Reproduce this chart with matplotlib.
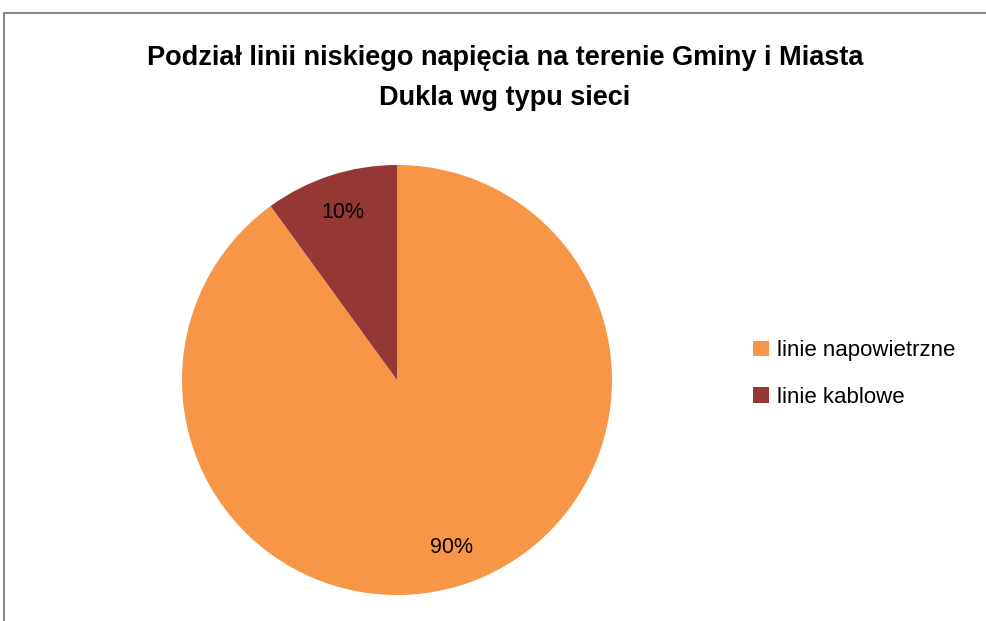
import matplotlib
matplotlib.use("Agg")
import matplotlib.pyplot as plt
from matplotlib.patches import Rectangle, Patch

categories = ["linie napowietrzne", "linie kablowe"]
values = [90, 10]
colors = ["#F79646", "#953735"]
title = "Podział linii niskiego napięcia na terenie Gminy i Miasta\nDukla wg typu sieci"

W, H = 987, 621
fig = plt.figure(figsize=(W / 100, H / 100), dpi=100)
plt.rcParams['font.family'] = ['Liberation Sans', 'DejaVu Sans']

# outer border
fig.patches.append(Rectangle((4 / W, -0.1), 1.2, 1 - 13 / H + 0.1, transform=fig.transFigure,
                             fill=False, edgecolor="#888888", linewidth=1.5))

cx, cy, r = 397, 380, 215
ax = fig.add_axes([(cx - r) / W, (H - cy - r) / H, 2 * r / W, 2 * r / H])
wedges, texts, autotexts = ax.pie(values, colors=colors, startangle=90, counterclock=False,
                                  autopct=lambda p: f"{p:.0f}%", pctdistance=0.82,
                                  textprops=dict(fontsize=15.5, color="black"),
                                  wedgeprops=dict(linewidth=0))
ax.set_xlim(-1, 1)
ax.set_ylim(-1, 1)
ax.set_aspect("equal")
ax.axis("off")

fig.text(505 / W, 1 - 78 / H, title, ha="center", va="center", fontsize=19.5,
         fontweight="bold", linespacing=1.7)

handles = [Patch(facecolor=c, edgecolor="none") for c in colors]
fig.legend(handles, categories, loc="center left", bbox_to_anchor=(733 / W, 1 - 374 / H),
           frameon=False, fontsize=16, handlelength=0.7, handleheight=0.7,
           handletextpad=0.4, labelspacing=1.15)

fig.savefig("out.png", dpi=100)
